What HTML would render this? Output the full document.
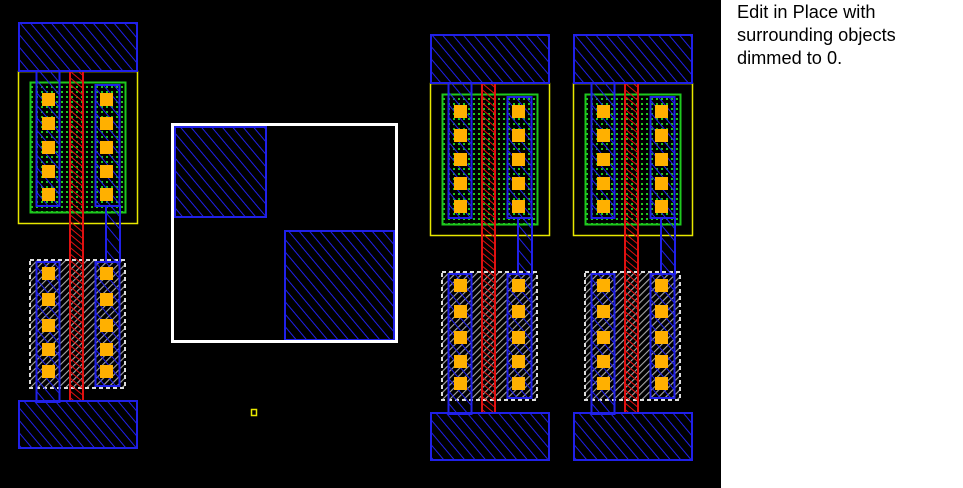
<!DOCTYPE html>
<html><head><style>
body{margin:0;width:963px;height:488px;overflow:hidden;background:#fff}
.t{position:absolute;left:737px;top:1px;font:18.2px/23px "Liberation Sans",sans-serif;color:#000}
</style></head><body>
<svg width="963" height="488" style="position:absolute;left:0;top:0">
<defs>
<pattern id="bh" width="8" height="8" patternUnits="userSpaceOnUse" patternTransform="rotate(-40)">
<line x1="0" y1="0" x2="0" y2="8" stroke="#2020e8" stroke-width="2"/></pattern>
<pattern id="rh" width="5" height="5" patternUnits="userSpaceOnUse" patternTransform="rotate(-50)">
<line x1="0" y1="0" x2="0" y2="5" stroke="#e01010" stroke-width="2"/></pattern>
<pattern id="gd" width="5" height="5" patternUnits="userSpaceOnUse">
<rect x="1" y="1" width="2" height="2" fill="#1ec81e"/></pattern>
<pattern id="wh" width="5" height="5" patternUnits="userSpaceOnUse" patternTransform="rotate(45)">
<line x1="0" y1="0" x2="0" y2="5" stroke="#a8a8a8" stroke-width="2.2"/></pattern>
<g id="cell">
<rect x="18.5" y="71.5" width="119" height="152" fill="none" stroke="#e8e800" stroke-width="1.5"/>
<rect x="30.5" y="82.5" width="95" height="130" fill="url(#gd)" stroke="#1ec81e" stroke-width="2"/>
<rect x="30" y="260" width="95" height="128" fill="url(#wh)" stroke="#ddd" stroke-width="2" stroke-dasharray="4 3"/>
<rect x="36.5" y="71" width="23" height="135" fill="url(#bh)" stroke="#2020e8" stroke-width="2"/>
<rect x="95.5" y="85" width="24" height="121" fill="url(#bh)" stroke="#2020e8" stroke-width="2"/>
<rect x="106" y="206" width="14" height="56" fill="url(#bh)" stroke="#2020e8" stroke-width="2"/>
<rect x="36.5" y="262" width="23" height="140" fill="url(#bh)" stroke="#2020e8" stroke-width="2"/>
<rect x="95.5" y="262" width="24" height="124" fill="url(#bh)" stroke="#2020e8" stroke-width="2"/>
<rect x="70" y="71" width="13" height="330" fill="url(#rh)" stroke="#e01010" stroke-width="2"/>
<g fill="#ffb000">
<rect x="42" y="93" width="13" height="13"/><rect x="42" y="117" width="13" height="13"/><rect x="42" y="141" width="13" height="13"/><rect x="42" y="165" width="13" height="13"/><rect x="42" y="188" width="13" height="13"/>
<rect x="100" y="93" width="13" height="13"/><rect x="100" y="117" width="13" height="13"/><rect x="100" y="141" width="13" height="13"/><rect x="100" y="165" width="13" height="13"/><rect x="100" y="188" width="13" height="13"/>
<rect x="42" y="267" width="13" height="13"/><rect x="42" y="293" width="13" height="13"/><rect x="42" y="319" width="13" height="13"/><rect x="42" y="343" width="13" height="13"/><rect x="42" y="365" width="13" height="13"/>
<rect x="100" y="267" width="13" height="13"/><rect x="100" y="293" width="13" height="13"/><rect x="100" y="319" width="13" height="13"/><rect x="100" y="343" width="13" height="13"/><rect x="100" y="365" width="13" height="13"/>
</g>
<rect x="19" y="23" width="118" height="48" fill="url(#bh)" stroke="#2020e8" stroke-width="2"/>
<rect x="19" y="401" width="118" height="47" fill="url(#bh)" stroke="#2020e8" stroke-width="2"/>
</g>
</defs>
<rect x="0" y="0" width="721" height="488" fill="#000"/>
<use href="#cell"/>
<use href="#cell" transform="translate(412,12)"/>
<use href="#cell" transform="translate(555,12)"/>
<rect x="175" y="127" width="91" height="90" fill="url(#bh)" stroke="#2020e8" stroke-width="2"/>
<rect x="285" y="231" width="109" height="109" fill="url(#bh)" stroke="#2020e8" stroke-width="2"/>
<rect x="172.5" y="124.5" width="224" height="217" fill="none" stroke="#fff" stroke-width="3"/>
<rect x="251.5" y="409.5" width="5" height="6" fill="none" stroke="#e8e800" stroke-width="1.5"/>
</svg>
<div class="t">Edit in Place with<br>surrounding objects<br>dimmed to 0.</div>
</body></html>
